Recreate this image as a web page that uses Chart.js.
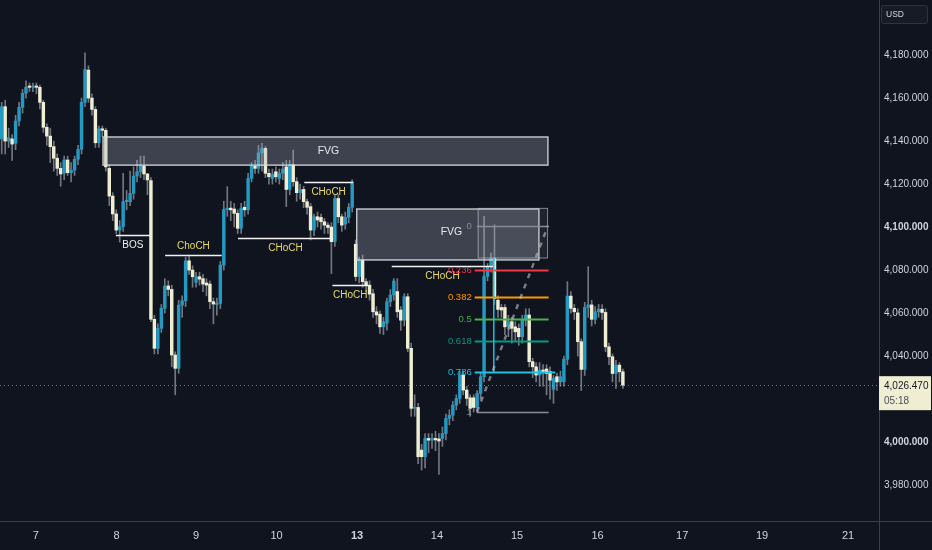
<!DOCTYPE html>
<html>
<head>
<meta charset="utf-8">
<script src="https://cdn.jsdelivr.net/npm/chart.js@4.4.1/dist/chart.umd.min.js"></script>
<style>
  html, body { margin: 0; padding: 0; background: #0f141f; }
  #wrap { width: 932px; height: 550px; }
</style>
</head>
<body>
<div id="wrap"><canvas id="chart" width="932" height="550"></canvas></div>
<script>
// hourly candles
const opens = [
  4141, 4156, 4140, 4141, 4139, 4149.3, 4155.7, 4162.2, 4165.6, 4165,
  4165.6, 4165, 4158, 4146.4, 4142.3, 4137.4, 4132, 4127.3, 4125, 4131.2,
  4125.3, 4126.5, 4131.5, 4136.1, 4158, 4173, 4160, 4154.7, 4139.2, 4145.7,
  4145, 4127.3, 4114.4, 4106.1, 4098.6, 4100.2, 4111.8, 4111.8, 4115.7, 4123.7,
  4125.7, 4128.4, 4124.7, 4121.6, 4057.1, 4043.6, 4052.9, 4062.2, 4072.6, 4071,
  4040.5, 4034.3, 4063.7, 4065.7, 4084.3, 4080, 4074.3, 4076.9, 4076, 4074,
  4073.5, 4065.3, 4064, 4064.5, 4082.3, 4108.2, 4108.8, 4108.4, 4106.4, 4099.4,
  4109.2, 4108, 4122.6, 4128.4, 4127.3, 4134.5, 4136.6, 4125, 4122.6, 4125.7,
  4122.6, 4125, 4128, 4117.5, 4129, 4121.1, 4116, 4117.5, 4111.8, 4109.5,
  4098.6, 4104.8, 4104.5, 4102.5, 4100.9, 4100, 4093.2, 4113.3, 4104.8, 4101.4,
  4104.5, 4109.2, 4092, 4077, 4084.6, 4074.6, 4073, 4069, 4060.6, 4059.5,
  4053.6, 4055.2, 4065.3, 4068.4, 4070, 4061.4, 4056.7, 4067.6, 4043.6, 4015.7,
  4016.1, 3996.3, 3993.2, 4001.7, 4000.9, 4001.7, 4001.5, 4001.7, 4004, 4011,
  4012.5, 4017.2, 4020.3, 4031.2, 4024.2, 4020.6, 4020.6, 4016.1, 4022.6, 4030.4,
  4077, 4081.5, 4085.4, 4066, 4062.6, 4062.6, 4053.6, 4056, 4053.6, 4052.9,
  4049, 4056.7, 4059.1, 4037.4, 4035, 4031.2, 4033.5, 4034, 4032.8, 4024.5,
  4030.4, 4028, 4028.1, 4038.5, 4067.9, 4062.2, 4060.1, 4046.7, 4033.8, 4062.6,
  4063.8, 4057.1, 4060.6, 4061.8, 4060.3, 4044.3, 4039.7, 4031.9, 4035.8, 4032.7
];
const highs = [
  4158, 4159, 4146, 4143, 4152, 4158, 4164, 4168, 4167, 4167,
  4167, 4166, 4159, 4148, 4146, 4140, 4134, 4130, 4133, 4133,
  4130, 4133, 4138, 4160, 4181, 4175, 4162, 4156, 4147, 4147,
  4146, 4129, 4116, 4108, 4103, 4125, 4117, 4126, 4128, 4131,
  4133, 4133, 4125, 4123, 4059, 4055, 4064, 4076, 4075, 4073,
  4042, 4066, 4068, 4086, 4087, 4082, 4079, 4079, 4078, 4076,
  4075, 4067, 4067, 4084, 4112, 4118.8, 4112, 4111, 4108, 4111,
  4112, 4125, 4130, 4131, 4138, 4139, 4137.5, 4127, 4127, 4128,
  4127, 4130, 4131, 4131, 4135.8, 4123, 4120, 4119, 4113, 4111,
  4106, 4107, 4106, 4104, 4102, 4102, 4115, 4115, 4106, 4107,
  4111, 4122, 4094, 4086, 4087, 4076, 4075, 4071, 4063, 4061,
  4058, 4067, 4071, 4076, 4076, 4063, 4069, 4069, 4046, 4022,
  4018, 3999, 4004, 4004, 4004, 4005, 4004, 4007, 4013, 4015,
  4019, 4022, 4033, 4033, 4026, 4022, 4022, 4024, 4032, 4105,
  4083, 4088, 4101, 4068, 4064, 4064, 4059, 4058, 4056, 4055,
  4059, 4062, 4062, 4039, 4037, 4037, 4036, 4036, 4035, 4031,
  4032, 4033, 4040, 4074.6, 4070, 4064, 4062, 4048, 4065, 4081.6,
  4066, 4063, 4064, 4064, 4062, 4046, 4041, 4038, 4037, 4034
];
const lows = [
  4134, 4134, 4137, 4131, 4136, 4147, 4153, 4160, 4163, 4163,
  4162, 4155, 4144, 4138, 4130, 4126, 4124, 4119, 4122, 4124,
  4121, 4124, 4129, 4134, 4156, 4158, 4152, 4137, 4137, 4142,
  4126, 4110, 4103, 4097, 4093, 4098, 4108, 4110, 4113, 4121,
  4123, 4122, 4115, 4056, 4041, 4041, 4051, 4060, 4068, 4035,
  4022, 4032, 4058, 4063, 4078, 4072, 4072, 4073, 4070, 4068,
  4062, 4055, 4059, 4062, 4080, 4105, 4103, 4100, 4097, 4097,
  4105, 4106, 4121, 4125, 4125, 4126, 4123, 4120, 4120, 4121,
  4120, 4122, 4109.5, 4115, 4119, 4112, 4113, 4109, 4106, 4094,
  4096, 4100, 4099, 4097, 4097, 4078.4, 4091, 4102, 4098, 4099,
  4102, 4107, 4075, 4074, 4072, 4070, 4066, 4058, 4055, 4050.5,
  4050, 4052, 4063, 4066, 4058, 4052, 4054, 4042, 4012, 4012,
  3990, 3987, 3988, 3995, 3997, 3996, 3985, 3998, 4001, 4008,
  4010, 4015, 4018, 4022, 4017, 4012, 4014, 4014, 4020, 4028,
  4075, 4079, 4064, 4058, 4058, 4050, 4049, 4046, 4047, 4045,
  4046, 4054, 4035, 4030, 4028, 4026, 4026, 4022, 4020, 4018,
  4024, 4026, 4026, 4036, 4060, 4057, 4040, 4024, 4031, 4058,
  4054, 4055, 4058, 4057, 4042, 4036, 4028, 4025, 4028, 4025
];
const closes = [
  4156, 4140, 4141.5, 4138.6, 4149.3, 4155.7, 4162.2, 4165, 4165, 4165.6,
  4165, 4158, 4146.4, 4142.3, 4137.4, 4132, 4127.3, 4124.7, 4131.2, 4125.3,
  4126.5, 4131.5, 4136.1, 4158, 4173.3, 4160, 4154.7, 4139.2, 4145.7, 4145,
  4128, 4114.4, 4106.1, 4098.6, 4100.2, 4111.8, 4112.5, 4115.7, 4123.7, 4125.7,
  4128.4, 4124.7, 4121.9, 4057.1, 4043.6, 4052.9, 4062.2, 4072.6, 4071, 4040.5,
  4034.3, 4063.7, 4065.7, 4084.3, 4080, 4076.9, 4076.9, 4075.8, 4073.5, 4073,
  4065.3, 4064.2, 4064.6, 4082.3, 4108.2, 4108.8, 4108, 4106.4, 4099.4, 4108.8,
  4108, 4122.6, 4128.4, 4127.3, 4134.5, 4136.6, 4125, 4123.4, 4124.5, 4123.4,
  4125, 4127, 4117.5, 4129, 4121.1, 4116, 4117.5, 4111.8, 4109.2, 4098.6,
  4104.8, 4103.3, 4102.5, 4100.9, 4099.8, 4093.2, 4113.3, 4104.8, 4100.9, 4104.5,
  4109.2, 4121.1, 4077, 4084.6, 4074.6, 4073, 4068.8, 4060.6, 4059.1, 4053.6,
  4056, 4065.3, 4068.4, 4074.9, 4060.6, 4056.7, 4067.6, 4043.6, 4015.7, 4016.1,
  3993.2, 3993.2, 4001.7, 4000.9, 4001.7, 4001, 4000.5, 4004, 4011, 4012.5,
  4017.2, 4020.3, 4031.2, 4024.2, 4020.3, 4015.7, 4016.1, 4022.6, 4030.4, 4077,
  4081.5, 4085.4, 4066.8, 4061.7, 4061.4, 4053.6, 4056, 4052.9, 4051.3, 4049,
  4056.7, 4059.1, 4037.4, 4035, 4031.2, 4033.5, 4032.8, 4031.9, 4028.8, 4029.6,
  4028, 4030.4, 4038.5, 4067.9, 4062.2, 4060.6, 4046.7, 4033.8, 4062.6, 4063.8,
  4057.1, 4060.6, 4061.8, 4060.3, 4044.3, 4039.7, 4031.9, 4035.8, 4032.7, 4026.47
];

// axis labels (x in candle units)
const dayLabels = ['7', '8', '9', '10', '13', '14', '15', '16', '17', '19', '21'];
const dayTicks = [9.8, 33.1, 56.0, 79.2, 102.4, 125.4, 148.5, 171.7, 196.1, 219.1, 243.9];
const priceTicks = [3980, 4000, 4020, 4040, 4060, 4080, 4100, 4120, 4140, 4160, 4180];
const lastPrice = 4026.47;
const countdown = '05:18';

// drawings
const fvgFrom = [29.2, 102.3];
const fvgTo = [157.4, 154.8];
const fvgTop = [4141.9, 4108.4];
const fvgBottom = [4128.8, 4084.7];
const fvgText = ['FVG', 'FVG'];

const structFrom = [32.9, 47.1, 68.1, 87.2, 95.3, 112.4];
const structTo = [42.7, 63.4, 95.5, 101.2, 105.6, 141.6];
const structPrice = [4096.3, 4087.0, 4094.7, 4120.8, 4072.9, 4081.9];
const structText = ['BOS', 'ChoCH', 'CHoCH', 'CHoCH', 'CHoCH', 'CHoCH'];
const structBelow = [true, false, true, true, true, true];

const fibText = ['0', '0.236', '0.382', '0.5', '0.618', '0.786', '1'];
const fibPrice = [4100.6, 4080.2, 4067.6, 4057.4, 4047.1, 4032.6, 4014.1];
const fibFrom = 136.3, fibTo = 157.6;

const BG = '#0f141f';
const UP = '#2499c1';
const DOWN = '#efeed2';
const WICK = 'rgba(125,129,140,0.9)';
const FONT = '"Liberation Sans", Arial, sans-serif';
const fibColors = ['#8a8d96', '#f23645', '#ff9800', '#4caf50', '#089981', '#1fc3e0', '#8a8d96'];

const bodies = opens.map((o, i) => ({ x: i, y: [o, closes[i]] }));
const wicks = highs.map((h, i) => ({ x: i, y: [lows[i], h] }));
const bodyColors = opens.map((o, i) => closes[i] >= o ? UP : DOWN);

const fmt = v => v.toLocaleString('en-US', { minimumFractionDigits: 3, maximumFractionDigits: 3 });

const overlay = {
    id: 'overlay',
    beforeDraw(chart) {
        const { ctx, width, height } = chart;
        ctx.save();
        ctx.fillStyle = BG;
        ctx.fillRect(0, 0, width, height);
        ctx.restore();
    },
    afterDatasetsDraw(chart) {
        const { ctx, chartArea: a, scales: { x, y } } = chart;
        ctx.save();
        ctx.beginPath();
        ctx.rect(a.left, a.top, a.right - a.left, a.bottom - a.top);
        ctx.clip();

        // last price dotted line
        ctx.strokeStyle = 'rgba(200,200,185,0.55)';
        ctx.lineWidth = 1;
        ctx.setLineDash([1, 3]);
        ctx.beginPath();
        ctx.moveTo(a.left, Math.round(y.getPixelForValue(lastPrice)) + 0.5);
        ctx.lineTo(a.right, Math.round(y.getPixelForValue(lastPrice)) + 0.5);
        ctx.stroke();
        ctx.setLineDash([]);

        // FVG boxes
        fvgFrom.forEach((f, i) => {
            const x0 = x.getPixelForValue(f), x1 = x.getPixelForValue(fvgTo[i]);
            const y0 = y.getPixelForValue(fvgTop[i]), y1 = y.getPixelForValue(fvgBottom[i]);
            ctx.fillStyle = 'rgba(170,175,188,0.30)';
            ctx.fillRect(x0, y0, x1 - x0, y1 - y0);
            ctx.strokeStyle = 'rgba(215,218,225,0.85)';
            ctx.lineWidth = 1.5;
            ctx.strokeRect(x0, y0, x1 - x0, y1 - y0);
            ctx.fillStyle = '#e6e7ea';
            ctx.font = '10.5px ' + FONT;
            ctx.textAlign = 'center';
            ctx.textBaseline = 'middle';
            const tx = i === 0 ? (x0 + x1) / 2 + 3 : x0 + (x1 - x0) * 0.52;
            ctx.fillText(fvgText[i], tx, (y0 + y1) / 2 + (i === 0 ? 0 : -2));
        });

        // fib outline box on top of the second gap
        {
            const x0 = x.getPixelForValue(fibFrom + 1), x1 = x.getPixelForValue(fibTo - 0.3);
            const y0 = y.getPixelForValue(4108.7), y1 = y.getPixelForValue(4085.6);
            ctx.fillStyle = 'rgba(170,175,188,0.10)';
            ctx.fillRect(x0, y0, x1 - x0, y1 - y0);
            ctx.strokeStyle = 'rgba(200,203,210,0.6)';
            ctx.lineWidth = 1;
            ctx.strokeRect(x0, y0, x1 - x0, y1 - y0);
        }

        // structure lines
        structFrom.forEach((f, i) => {
            const x0 = x.getPixelForValue(f), x1 = x.getPixelForValue(structTo[i]);
            const py = Math.round(y.getPixelForValue(structPrice[i])) + 0.5;
            ctx.strokeStyle = '#f2f2f2';
            ctx.lineWidth = 1.5;
            ctx.beginPath();
            ctx.moveTo(x0, py);
            ctx.lineTo(x1, py);
            ctx.stroke();
            ctx.fillStyle = structText[i] === 'BOS' ? '#f2f2f2' : '#e9db6a';
            ctx.font = '10px ' + FONT;
            ctx.textAlign = 'center';
            ctx.textBaseline = 'middle';
            ctx.fillText(structText[i], (x0 + x1) / 2, py + (structBelow[i] ? 10 : -9));
        });

        // fib levels
        const fx0 = x.getPixelForValue(fibFrom), fx1 = x.getPixelForValue(fibTo);
        fibPrice.forEach((p, i) => {
            const py = Math.round(y.getPixelForValue(p)) + 0.5;
            const isEnd = i === 0 || i === fibPrice.length - 1;
            ctx.strokeStyle = fibColors[i];
            ctx.lineWidth = isEnd ? 1.5 : 2;
            ctx.beginPath();
            ctx.moveTo(fx0 + (isEnd ? 2 : 0), py);
            ctx.lineTo(i === 5 ? x.getPixelForValue(159.5) : fx1, py);
            ctx.stroke();
            ctx.fillStyle = fibColors[i];
            ctx.font = '9.5px ' + FONT;
            ctx.textAlign = 'right';
            ctx.textBaseline = 'middle';
            ctx.fillText(fibText[i], fx0 - 3, py);
        });

        // cyan range edge
        ctx.strokeStyle = '#1fc3e0';
        ctx.lineWidth = 1.5;
        ctx.beginPath();
        ctx.moveTo(x.getPixelForValue(141.8), y.getPixelForValue(4085.6));
        ctx.lineTo(x.getPixelForValue(141.8), y.getPixelForValue(4032.6));
        ctx.stroke();

        // dashed trend line of the fib
        ctx.strokeStyle = 'rgba(190,192,198,0.6)';
        ctx.lineWidth = 2.5;
        ctx.setLineDash([5, 6]);
        ctx.beginPath();
        ctx.moveTo(x.getPixelForValue(137), y.getPixelForValue(4014.1));
        ctx.lineTo(x.getPixelForValue(157.4), y.getPixelForValue(4100.6));
        ctx.stroke();
        ctx.setLineDash([]);
        ctx.restore();
    },
    afterDraw(chart) {
        const { ctx, width, height, chartArea: a, scales: { y } } = chart;
        ctx.save();
        // pane borders
        ctx.strokeStyle = '#3a3f4b';
        ctx.lineWidth = 1;
        ctx.beginPath();
        ctx.moveTo(0, a.bottom + 0.5);
        ctx.lineTo(width, a.bottom + 0.5);
        ctx.moveTo(a.right + 0.5, 0);
        ctx.lineTo(a.right + 0.5, height);
        ctx.stroke();

        // currency box
        ctx.fillStyle = '#161b26';
        ctx.strokeStyle = '#2e3340';
        ctx.beginPath();
        ctx.roundRect(a.right + 2.5, 5.5, 46, 18, 2);
        ctx.fill();
        ctx.stroke();
        ctx.fillStyle = '#d1d4dc';
        ctx.font = '8.5px ' + FONT;
        ctx.textAlign = 'left';
        ctx.textBaseline = 'middle';
        ctx.fillText('USD', a.right + 7, 14.5);

        // last price tag
        const py = y.getPixelForValue(lastPrice);
        ctx.fillStyle = '#efeed2';
        ctx.fillRect(a.right, py - 9, width - a.right - 1, 34);
        ctx.fillStyle = '#131722';
        ctx.font = '10px ' + FONT;
        ctx.fillText(fmt(lastPrice), a.right + 5, py + 1);
        ctx.fillStyle = '#4a4e59';
        ctx.fillText(countdown, a.right + 5, py + 16.5);
        ctx.restore();
    }
};

new Chart(document.getElementById('chart').getContext('2d'), {
    type: 'bar',
    data: {
        datasets: [
            {
                label: 'wicks',
                data: wicks,
                backgroundColor: WICK,
                barThickness: 1,
                grouped: false,
                order: 2
            },
            {
                label: 'bodies',
                data: bodies,
                backgroundColor: bodyColors,
                barThickness: 2.8,
                minBarLength: 1,
                grouped: false,
                order: 1
            }
        ]
    },
    options: {
        responsive: false,
        animation: false,
        layout: { padding: 0 },
        plugins: {
            legend: { display: false },
            tooltip: { enabled: false }
        },
        scales: {
            x: {
                type: 'linear',
                min: -0.49,
                max: 252.8,
                offset: false,
                grid: { display: false, drawTicks: false },
                border: { display: false },
                afterBuildTicks: s => { s.ticks = dayTicks.map(v => ({ value: v })); },
                afterFit: s => { s.height = 29; s.paddingLeft = 0; s.paddingRight = 0; },
                ticks: {
                    autoSkip: false,
                    maxRotation: 0,
                    padding: 8,
                    color: '#d1d4dc',
                    font: c => ({ family: FONT, size: 11, weight: dayLabels[c.index] === '13' ? 'bold' : 'normal' }),
                    callback: (v, i) => dayLabels[i]
                }
            },
            y: {
                type: 'linear',
                position: 'right',
                min: 3963.3,
                max: 4205.6,
                grid: { display: false, drawTicks: false },
                border: { display: false },
                afterBuildTicks: s => { s.ticks = priceTicks.map(v => ({ value: v })); },
                afterFit: s => { s.width = 53; s.paddingTop = 0; s.paddingBottom = 0; },
                ticks: {
                    padding: 5,
                    color: '#d1d4dc',
                    font: c => ({ family: FONT, size: 10, weight: c.tick && c.tick.value % 100 === 0 ? 'bold' : 'normal' }),
                    callback: v => fmt(v)
                }
            }
        }
    },
    plugins: [overlay]
});
</script>
</body>
</html>
